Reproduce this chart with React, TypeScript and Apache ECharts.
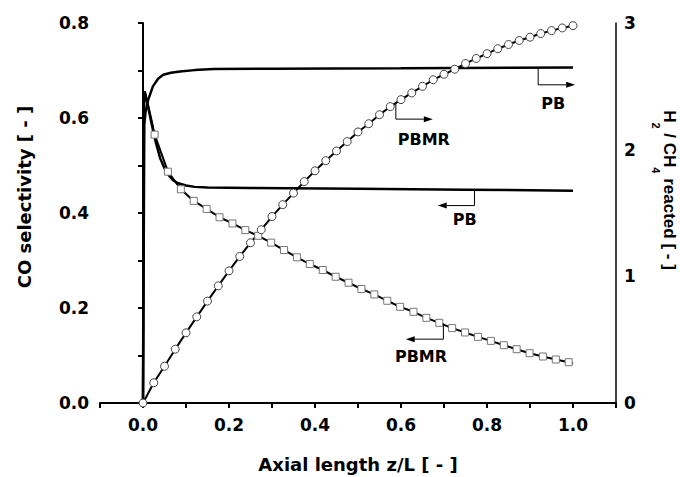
import React, { useEffect, useRef } from 'react';
import * as echarts from 'echarts';

// ---- data ----
// PB, CO selectivity (left axis)
const pbCOx = [0, 0.002, 0.004, 0.01, 0.02, 0.03, 0.04, 0.05, 0.06, 0.07, 0.08, 0.1, 0.12, 0.15, 0.25, 0.5, 0.75, 1.0];
const pbCOy = [0, 0.62, 0.656, 0.632, 0.588, 0.548, 0.515, 0.494, 0.479, 0.469, 0.463, 0.458, 0.455, 0.4535, 0.4525, 0.451, 0.449, 0.447];

// PB, H2/CH4 reacted (right axis)
const pbH2x = [0, 0.003, 0.006, 0.012, 0.023, 0.035, 0.047, 0.065, 0.086, 0.12, 0.164, 0.3, 0.6, 1.0];
const pbH2y = [0, 2.2, 2.3, 2.393, 2.5, 2.56, 2.591, 2.607, 2.617, 2.628, 2.636, 2.639, 2.642, 2.648];

// PBMR, CO selectivity (left axis): lead-in line, square markers, tail
const pbmrCOleadX = [0, 0.002, 0.004, 0.012, 0.02];
const pbmrCOleadY = [0, 0.62, 0.656, 0.626, 0.595];
const squareX = [0.027, 0.058, 0.088, 0.118, 0.148, 0.178, 0.208, 0.238, 0.268, 0.298, 0.328, 0.358, 0.388, 0.418, 0.448, 0.478, 0.508, 0.538, 0.568, 0.598, 0.629, 0.659, 0.689, 0.719, 0.749, 0.779, 0.809, 0.839, 0.869, 0.899, 0.93, 0.96, 0.99];
const squareY = [0.565, 0.487, 0.45, 0.4255, 0.4086, 0.391, 0.378, 0.364, 0.352, 0.3376, 0.322, 0.3067, 0.2926, 0.28, 0.2658, 0.2532, 0.24, 0.2286, 0.2152, 0.2025, 0.192, 0.1793, 0.1688, 0.1576, 0.1485, 0.1392, 0.1308, 0.1217, 0.1133, 0.1049, 0.0979, 0.0916, 0.0859];
const pbmrCOtailX = [1.0];
const pbmrCOtailY = [0.083];

// PBMR, H2/CH4 reacted (right axis), circle markers
const circleX = [0, 0.025, 0.05, 0.075, 0.1, 0.125, 0.15, 0.175, 0.2, 0.225, 0.25, 0.275, 0.3, 0.325, 0.35, 0.375, 0.4, 0.425, 0.45, 0.475, 0.5, 0.525, 0.55, 0.575, 0.6, 0.625, 0.65, 0.675, 0.7, 0.725, 0.75, 0.775, 0.8, 0.825, 0.85, 0.875, 0.9, 0.925, 0.95, 0.975, 1.0];
const circleY = [0, 0.16, 0.29, 0.425, 0.554, 0.68, 0.804, 0.925, 1.043, 1.157, 1.265, 1.368, 1.472, 1.566, 1.657, 1.748, 1.833, 1.913, 1.99, 2.064, 2.14, 2.205, 2.276, 2.34, 2.395, 2.448, 2.5, 2.552, 2.595, 2.635, 2.68, 2.72, 2.758, 2.797, 2.83, 2.862, 2.888, 2.917, 2.94, 2.961, 2.979];

// annotations (data coords)
const annLabels = ['PB', 'PBMR', 'PB', 'PBMR'];
const annAxis = [1, 1, 0, 0];
const annX = [0.919, 0.588, 0.771, 0.6986];
const annYTop = [2.645, 2.367, 0.449, 0.1675];
const annYBot = [2.512, 2.241, 0.4156, 0.1344];
const annXEnd = [1.005, 0.674, 0.6855, 0.611];
const annTextX = [0.954, 0.653, 0.748, 0.6465];
const annTextY = [2.367, 2.077, 0.3854, 0.0985];

const FONT = 'DejaVu Sans';

export default function App() {
  const ref = useRef<HTMLDivElement>(null);
  useEffect(() => {
    document.body.style.margin = '0';
    const chart = echarts.init(ref.current!, null, { renderer: 'svg' });
    const tickLabel = { fontFamily: FONT, fontWeight: 'bold', fontSize: 17, color: '#000' };
    const option: any = {
      animation: false,
      backgroundColor: '#fff',
      grid: { left: 100, right: 64, top: 23, bottom: 74, containLabel: false },
      xAxis: [
        {
          type: 'value', min: -0.1, max: 1.1, interval: 0.1,
          splitLine: { show: false },
          axisLine: { show: true, lineStyle: { color: '#000', width: 2 } },
          axisTick: { show: true, inside: false, length: 5, lineStyle: { color: '#000', width: 2 } },
          axisLabel: {
            ...tickLabel, margin: 13,
            formatter: (v: number) => {
              const k = Math.round(v * 10);
              if (k < 0 || k > 10 || k % 2 !== 0) return '';
              return (k / 10).toFixed(1);
            },
          },
        },
      ],
      yAxis: [
        {
          type: 'value', min: 0, max: 0.8, interval: 0.1, position: 'left',
          splitLine: { show: false },
          axisLine: { show: true, lineStyle: { color: '#000', width: 2 } },
          axisTick: { show: true, inside: false, length: 5, lineStyle: { color: '#000', width: 2 } },
          axisLabel: {
            ...tickLabel, margin: 11,
            formatter: (v: number) => {
              const k = Math.round(v * 10);
              return k % 2 === 0 ? (k / 10).toFixed(1) : '';
            },
          },
        },
        {
          type: 'value', min: 0, max: 3, interval: 1, position: 'right',
          splitLine: { show: false },
          axisLine: { show: true, lineStyle: { color: '#000', width: 1.5 } },
          axisTick: { show: false },
          axisLabel: { ...tickLabel, margin: 8, formatter: (v: number) => String(Math.round(v)) },
        },
      ],
      series: [
        {
          name: 'PB CO', type: 'line', yAxisIndex: 0, symbol: 'none', silent: true,
          data: pbCOx.map((x, i) => [x, pbCOy[i]]),
          lineStyle: { color: '#000', width: 2.5 }, z: 2,
        },
        {
          name: 'PB H2', type: 'line', yAxisIndex: 1, symbol: 'none', silent: true,
          data: pbH2x.map((x, i) => [x, pbH2y[i]]),
          lineStyle: { color: '#000', width: 2.5 }, z: 2,
        },
        {
          name: 'PBMR CO', type: 'line', yAxisIndex: 0, symbol: 'rect', symbolSize: 7,
          showSymbol: true, showAllSymbol: true, silent: true,
          data: [
            ...pbmrCOleadX.map((x, i) => ({ value: [x, pbmrCOleadY[i]], symbol: 'none' })),
            ...squareX.map((x, i) => [x, squareY[i]]),
            ...pbmrCOtailX.map((x, i) => ({ value: [x, pbmrCOtailY[i]], symbol: 'none' })),
          ],
          itemStyle: { color: '#fff', borderColor: '#777', borderWidth: 1 },
          lineStyle: { color: '#000', width: 2 }, z: 3,
        },
        {
          name: 'PBMR H2', type: 'line', yAxisIndex: 1, symbol: 'circle', symbolSize: 8,
          showSymbol: true, showAllSymbol: true, silent: true,
          data: circleX.map((x, i) => [x, circleY[i]]),
          itemStyle: { color: '#fff', borderColor: '#444', borderWidth: 1 },
          lineStyle: { color: '#000', width: 2 }, z: 3,
        },
      ],
    };
    chart.setOption(option);

    const graphics: any[] = [];
    const textStyle = (text: string, size: number, weight: string) => ({
      text, fontFamily: FONT, fontSize: size, fontWeight: weight, fill: '#000',
      align: 'center', verticalAlign: 'middle',
    });
    for (let i = 0; i < annLabels.length; i++) {
      const f = { xAxisIndex: 0, yAxisIndex: annAxis[i] };
      const pTop = chart.convertToPixel(f, [annX[i], annYTop[i]]) as number[];
      const pBot = chart.convertToPixel(f, [annX[i], annYBot[i]]) as number[];
      const pEnd = chart.convertToPixel(f, [annXEnd[i], annYBot[i]]) as number[];
      const pTxt = chart.convertToPixel(f, [annTextX[i], annTextY[i]]) as number[];
      const dir = pEnd[0] > pBot[0] ? 1 : -1;
      const headLen = 9;
      graphics.push({ type: 'line', shape: { x1: pTop[0], y1: pTop[1], x2: pBot[0], y2: pBot[1] }, style: { stroke: '#000', lineWidth: 1 }, z: 10 });
      graphics.push({ type: 'line', shape: { x1: pBot[0], y1: pBot[1], x2: pEnd[0] - dir * headLen, y2: pEnd[1] }, style: { stroke: '#000', lineWidth: 1 }, z: 10 });
      graphics.push({ type: 'polygon', shape: { points: [[pEnd[0], pEnd[1]], [pEnd[0] - dir * headLen, pEnd[1] - 3], [pEnd[0] - dir * headLen, pEnd[1] + 3]] }, style: { fill: '#000' }, z: 10 });
      graphics.push({ type: 'text', x: pTxt[0], y: pTxt[1], style: textStyle(annLabels[i], 16, 'bold'), z: 10 });
    }
    // axis titles
    graphics.push({ type: 'text', x: 358, y: 464, style: textStyle('Axial length z/L [ - ]', 18, 'bold') });
    graphics.push({ type: 'text', x: 24, y: 197, rotation: Math.PI / 2, style: textStyle('CO selectivity [ - ]', 18, 'bold') });
    const RF = 'Liberation Sans';
    graphics.push({
      type: 'text', x: 664, y: 190, rotation: -Math.PI / 2,
      style: {
        text: '{m|H}{s|2}{m| / CH}{s|4}{m| reacted [ - ]}',
        fill: '#000', align: 'center', verticalAlign: 'middle',
        rich: {
          m: { fontFamily: RF, fontWeight: 'bold', fontSize: 17, fill: '#000', lineHeight: 20, verticalAlign: 'top' },
          s: { fontFamily: RF, fontWeight: 'bold', fontSize: 11, fill: '#000', lineHeight: 28, verticalAlign: 'bottom' },
        },
      },
    });
    chart.setOption({ graphic: graphics });
    return () => chart.dispose();
  }, []);
  return <div ref={ref} style={{ width: 680, height: 477 }} />;
}
